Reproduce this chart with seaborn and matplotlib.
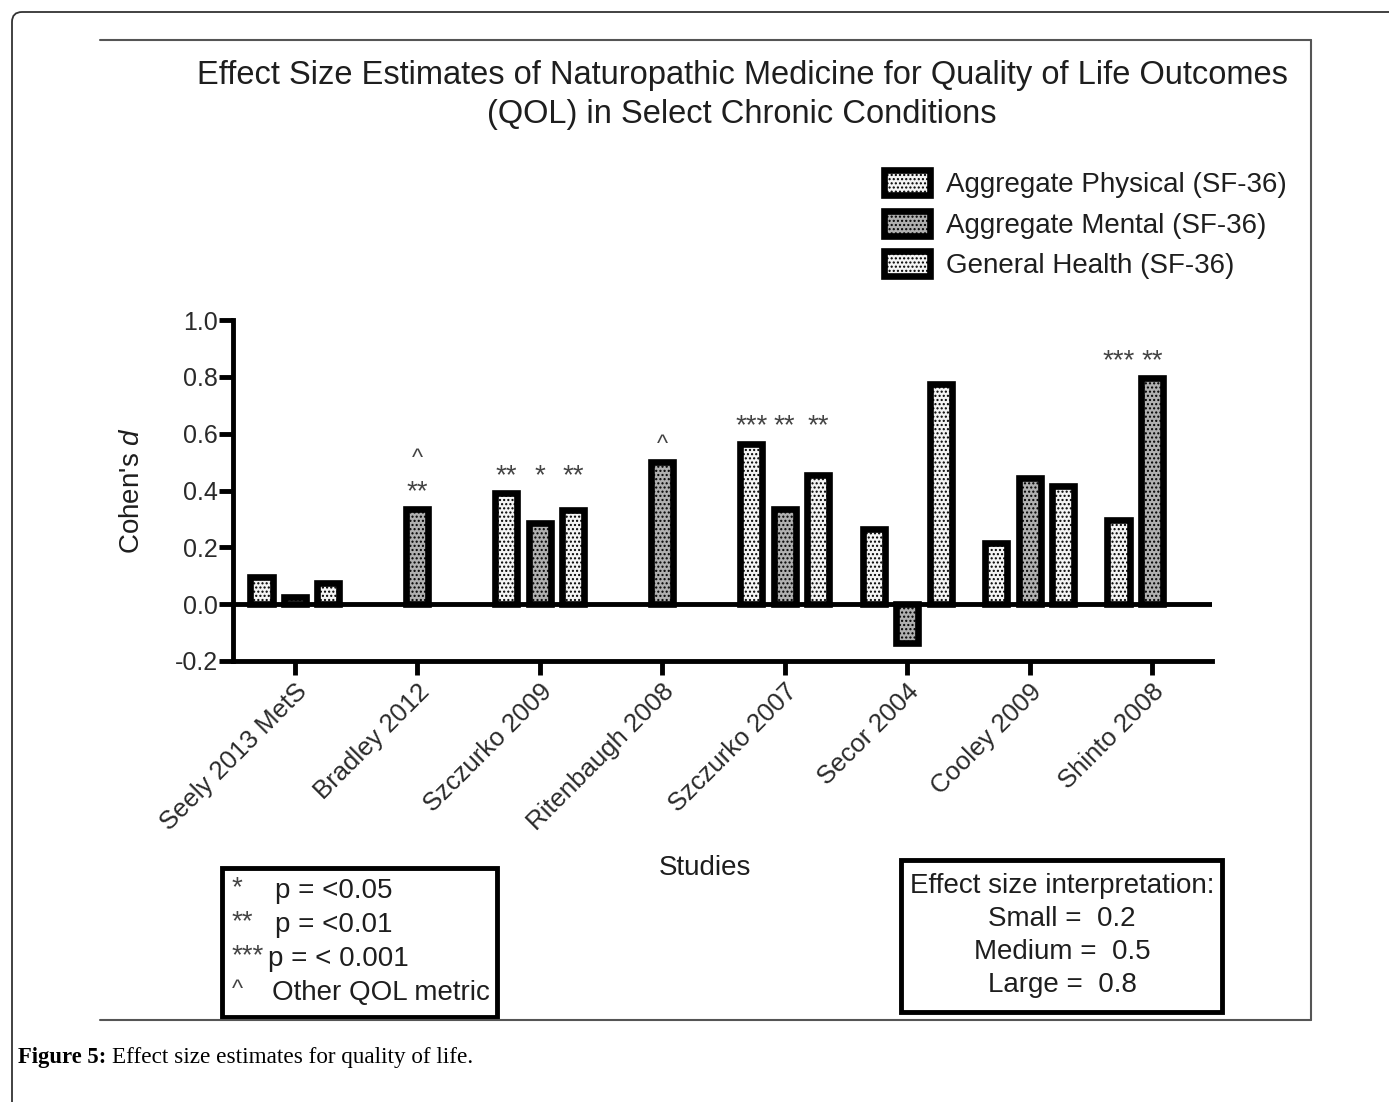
import numpy as np
import pandas as pd
import seaborn as sns
import matplotlib.pyplot as plt
from matplotlib.patches import Rectangle, FancyBboxPatch, Patch
from matplotlib.lines import Line2D
from matplotlib.transforms import IdentityTransform

# data
studies = ["Seely 2013 MetS", "Bradley 2012", "Szczurko 2009", "Ritenbaugh 2008",
           "Szczurko 2007", "Secor 2004", "Cooley 2009", "Shinto 2008"]
series = ["Aggregate Physical (SF-36)", "Aggregate Mental (SF-36)", "General Health (SF-36)"]
physical = [0.095, np.nan, 0.39, np.nan, 0.565, 0.265, 0.215, 0.295]
mental = [0.025, 0.335, 0.285, 0.50, 0.335, -0.135, 0.445, 0.795]
general = [0.075, np.nan, 0.33, np.nan, 0.455, 0.775, 0.415, np.nan]

# significance marks: study -> list of (series index, mark)
sig_marks = {
    "Bradley 2012": [(1, "**"), (1, "^")],
    "Szczurko 2009": [(0, "**"), (1, "*"), (2, "**")],
    "Ritenbaugh 2008": [(1, "^")],
    "Szczurko 2007": [(0, "***"), (1, "**"), (2, "**")],
    "Shinto 2008": [(0, "***"), (1, "**")],
}

p_legend = [("*", "p = <0.05"), ("**", "p = <0.01"), ("***", "p = < 0.001"), ("^", "Other QOL metric")]
effect_legend = ["Effect size interpretation:", "Small =  0.2", "Medium =  0.5", "Large =  0.8"]

df = pd.DataFrame({
    "study": studies * 3,
    "series": [s for s in series for _ in studies],
    "d": physical + mental + general,
}).dropna()

W, H = 1389, 1102


def fx(x):
    return x / W


def fy(y):
    return 1 - y / H


sns.set_style("white")
plt.rcParams["font.family"] = ["Liberation Sans", "DejaVu Sans"]
plt.rcParams["mathtext.fontset"] = "custom"
plt.rcParams["mathtext.it"] = "Liberation Sans:italic"
plt.rcParams["mathtext.rm"] = "Liberation Sans"
plt.rcParams["hatch.linewidth"] = 1.0
txt = "#1e1e1e"

fig = plt.figure(figsize=(W / 100, H / 100), dpi=100)
ax = fig.add_axes([fx(233), fy(661), (1212 - 233) / W, (661 - 320) / H])

fills = ["#f4f4f4", "#b0b0b0", "#f4f4f4"]
hatches = ["....", "....", "...."]
bar_width = 0.82
sns.barplot(data=df, x="study", y="d", hue="series", order=studies, hue_order=series,
            width=bar_width, gap=0.34, palette=fills, saturation=1, edgecolor="black",
            linewidth=4.8, errorbar=None, legend=False, ax=ax, zorder=3)
for container, h in zip(ax.containers, hatches):
    for patch in container:
        patch.set_hatch(h)

ax.axhline(0, color="black", lw=3.5, zorder=2)
ax.set_ylim(-0.2, 1.0)
ax.set_xlim(-0.506, 7.49)
ax.set_yticks(np.arange(-0.2, 1.01, 0.2))
ax.set_yticklabels([f"{v:.1f}" for v in np.arange(-0.2, 1.01, 0.2)])
for side in ["top", "right"]:
    ax.spines[side].set_visible(False)
for side in ["left", "bottom"]:
    ax.spines[side].set_linewidth(3.5)
    ax.spines[side].set_color("black")
ax.tick_params(axis="both", width=3.5, length=10, color="black", labelcolor="#2a2a2a",
               left=True, bottom=True)
ax.tick_params(axis="y", pad=1, labelsize=18)
ax.tick_params(axis="x", labelsize=18.5)
plt.setp(ax.get_xticklabels(), rotation=45, ha="right", rotation_mode="anchor")

ax.set_ylabel("Cohen's $\\mathit{d}$", fontsize=20, color=txt)
ax.yaxis.set_label_coords(-0.090, 0.5)
ax.set_xlabel("Studies", fontsize=20, color=txt)
ax.xaxis.label.set_va("center")
ax.xaxis.set_label_coords(0.482, -0.607)

# significance marks above each group
offsets = (np.arange(3) - 1) * bar_width / 3
values = [physical, mental, general]
for study, marks in sig_marks.items():
    i = studies.index(study)
    top = np.nanmax([v[i] for v in values])
    used = {}
    for k, mark in marks:
        level = used.get(k, 0)
        used[k] = level + 1
        ax.text(i + offsets[k], top + 0.06 + 0.115 * level, mark, ha="center", va="center",
                fontsize=20 if mark != "^" else 17, color="#444444", zorder=4)

# legend
handles = [Patch(facecolor=f, edgecolor="black", hatch=h, linewidth=4.8) for f, h in zip(fills, hatches)]
fig.legend(handles, series, loc="upper left", bbox_to_anchor=(fx(884), fy(170)), frameon=False,
           fontsize=20, handlelength=1.65, handleheight=1.0, labelspacing=0.46, handletextpad=0.6,
           borderaxespad=0, borderpad=0, labelcolor=txt)

# title
fig.text(fx(742), fy(95), "Effect Size Estimates of Naturopathic Medicine for Quality of Life Outcomes\n"
         "(QOL) in Select Chronic Conditions", ha="center", va="center", fontsize=23.5,
         color=txt, linespacing=1.3)

# p-value key box
fig.add_artist(Rectangle((fx(222), fy(1017)), (497 - 222) / W, (1017 - 868) / H, transform=fig.transFigure,
                         fill=False, edgecolor="black", lw=3.5))
for j, (mark, label) in enumerate(p_legend):
    y = 891 + 34 * j
    fig.text(fx(232), fy(y - 3), mark, ha="left", va="center", fontsize=20 if mark != "^" else 17,
             color="#444444")
    fig.text(fx(268 if mark == "***" else 275 if mark != "^" else 272), fy(y), label, ha="left",
             va="center", fontsize=20, color=txt)

# effect size key box
fig.add_artist(Rectangle((fx(901), fy(1012)), (1222 - 901) / W, (1012 - 860) / H, transform=fig.transFigure,
                         fill=False, edgecolor="black", lw=3.5))
for j, label in enumerate(effect_legend):
    fig.text(fx(1062), fy(886 + 33 * j), label, ha="center", va="center", fontsize=20, color=txt)

# page frames
fig.add_artist(FancyBboxPatch((12, -40), 1420, H - 12 + 40, boxstyle="round,pad=0,rounding_size=10",
                              transform=IdentityTransform(), fill=False, edgecolor="#333333", lw=1.3))
for (x0, y0), (x1, y1) in [((100, 40), (1311, 40)), ((1311, 40), (1311, 1020)), ((1311, 1020), (100, 1020))]:
    fig.add_artist(Line2D([fx(x0), fx(x1)], [fy(y0), fy(y1)], transform=fig.transFigure,
                          color="#555555", lw=1.5))

# caption
fig.text(fx(18), fy(1057), "Figure 5:", ha="left", va="center", fontsize=16.3, fontweight="bold",
         family="Liberation Serif", color="black")
fig.text(fx(112), fy(1057), "Effect size estimates for quality of life.", ha="left", va="center",
         fontsize=16.7, family="Liberation Serif", color="black")

fig.savefig("out.png", dpi=100)
